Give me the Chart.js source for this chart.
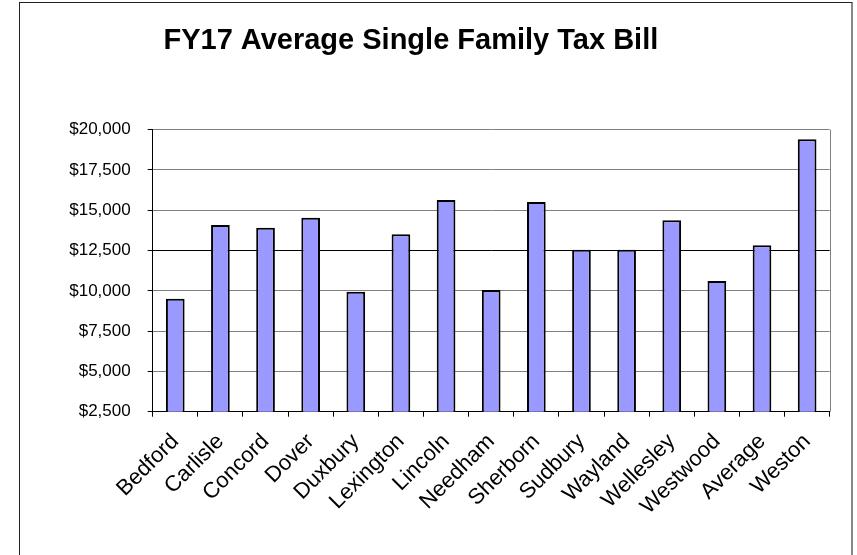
<!DOCTYPE html>
<html>
<head>
<meta charset="utf-8">
<script src="https://cdn.jsdelivr.net/npm/chart.js@4/dist/chart.umd.min.js"></script>
<style>
  html, body { margin: 0; padding: 0; width: 857px; height: 555px; overflow: hidden; background: #fff; }
  #frame { position: absolute; left: 19px; top: 2px; width: 831px; height: 600px;
           border-left: 1px solid #222; border-top: 1px solid #222; border-right: 2px solid #888; }
  #wrap { position: absolute; left: -8px; top: 0; width: 865px; height: 555px; }
</style>
</head>
<body>
<div id="frame"></div>
<div id="wrap"><canvas id="c" width="865" height="555"></canvas></div>
<script>
const categories = ["Bedford", "Carlisle", "Concord", "Dover", "Duxbury", "Lexington", "Lincoln",
  "Needham", "Sherborn", "Sudbury", "Wayland", "Wellesley", "Westwood", "Average", "Weston"];
const taxBill = [9510, 14090, 13920, 14540, 9950, 13510, 15640, 10050, 15510, 12550, 12550, 14380, 10610, 12830, 19400];
const yMin = 2500;
const yMax = 20000;
const yStep = 2500;
const chartTitle = "FY17 Average Single Family Tax Bill";

const FONT = "'Liberation Sans', Arial, Helvetica, sans-serif";

const plotBorder = {
  id: 'plotBorder',
  afterDatasetsDraw(chart) {
    const a = chart.chartArea, ctx = chart.ctx;
    ctx.save();
    ctx.strokeStyle = '#808080';
    ctx.lineWidth = 1;
    ctx.beginPath();
    ctx.moveTo(Math.round(a.right) + 0.5, a.top);
    ctx.lineTo(Math.round(a.right) + 0.5, a.bottom);
    ctx.stroke();
    ctx.restore();
  }
};

new Chart(document.getElementById('c'), {
  type: 'bar',
  data: {
    labels: categories,
    datasets: [{
      data: taxBill,
      backgroundColor: '#9999FF',
      borderColor: '#000000',
      borderWidth: 2,
      barPercentage: 0.414,
      categoryPercentage: 1.0
    }]
  },
  options: {
    responsive: false,
    animation: false,
    devicePixelRatio: 1,
    layout: { padding: { left: 0, right: 27.3, top: 0, bottom: 0 } },
    plugins: {
      legend: { display: false },
      tooltip: { enabled: false },
      title: {
        display: true,
        text: chartTitle,
        color: '#000',
        font: { family: FONT, size: 29, weight: 'bold', lineHeight: 1.2 },
        padding: { top: 24, bottom: 70.9 }
      }
    },
    scales: {
      x: {
        grid: { display: true, drawOnChartArea: false, drawTicks: true, tickLength: 5, color: '#000', offset: true },
        border: { color: '#000', width: 1 },
        ticks: { color: '#000', font: { family: FONT, size: 22 }, minRotation: 45, maxRotation: 45, padding: 12, autoSkip: false },
        afterFit(scale) { scale.height = 143.3; }
      },
      y: {
        min: yMin,
        max: yMax,
        ticks: {
          stepSize: yStep,
          color: '#000',
          padding: 17,
          font: { family: FONT, size: 17 },
          callback: (v) => '$' + Number(v).toLocaleString('en-US')
        },
        grid: {
          color: (ctx) => (ctx.tick && ctx.tick.value === 12500) ? '#000' : '#808080',
          tickColor: '#000',
          tickLength: 5,
          lineWidth: 1
        },
        border: { color: '#000', width: 1 },
        afterFit(scale) { scale.width = 160.7; }
      }
    }
  },
  plugins: [plotBorder]
});
</script>
</body>
</html>
